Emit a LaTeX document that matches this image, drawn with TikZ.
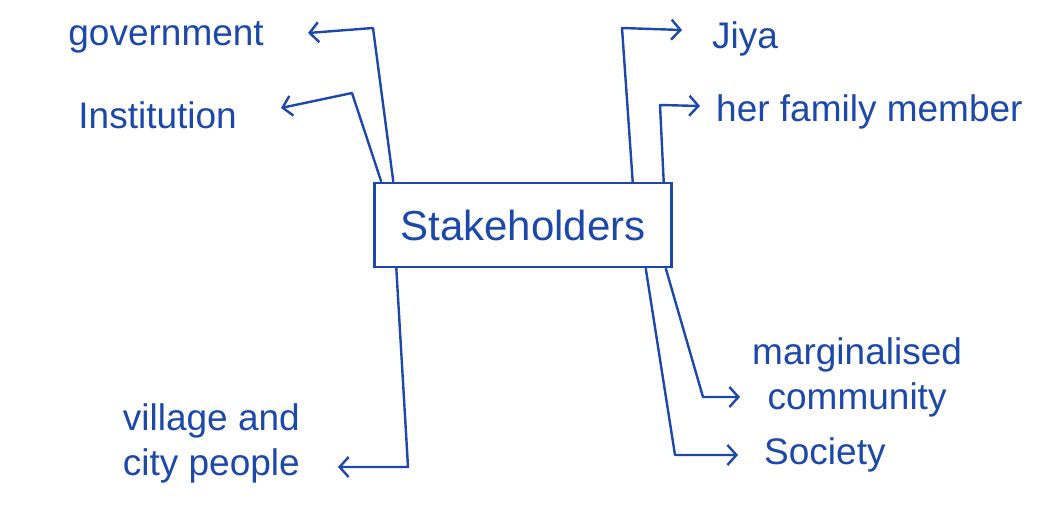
\documentclass[tikz,border=0pt]{standalone}
\usepackage{fontspec}
\setmainfont{Liberation Sans}
\usetikzlibrary{arrows.meta,positioning}
\definecolor{InkBlue}{RGB}{28,72,170}

\begin{document}
\begin{tikzpicture}[
  x=1pt,y=-1pt,
  hub/.style={draw=InkBlue,line width=2.4pt,minimum width=297pt,minimum height=84pt,
              text=InkBlue,font=\fontsize{42}{46}\selectfont,inner sep=0pt},
  lbl/.style={text=InkBlue,font=\fontsize{37}{45}\selectfont,inner sep=0pt},
  link/.style={draw=InkBlue,line width=2.4pt,line join=round,
               -{Straight Barb[length=9pt,width=20pt,line width=2.4pt]}},
]
\useasboundingbox (0,0) rectangle (1056,509);

% central box
\node[hub] (stake) at (523,225) {Stakeholders};

% arrow tips
\coordinate (govtip) at (308,33);
\coordinate (insttip) at (281,108);
\coordinate (jiyatip) at (682,30);
\coordinate (famtip) at (700,106);
\coordinate (margtip) at (740,397);
\coordinate (soctip) at (738,455);
\coordinate (viltip) at (338,467);

% labels
\node[lbl,left=44pt of govtip,yshift=-4pt] (gov) {government};
\node[lbl,left=44pt of insttip,yshift=-7pt] (inst) {Institution};
\node[lbl,right=30pt of jiyatip,yshift=-9pt] (jiya) {Jiya};
\node[lbl,right=16pt of famtip,yshift=-6pt] (fam) {her family member};
\node[lbl,right=12pt of margtip,yshift=20pt,align=center] (marg) {marginalised\\community};
\node[lbl,right=26pt of soctip] (soc) {Society};
\node[lbl,left=38pt of viltip,yshift=24pt,align=left] (vil) {village and\\city people};

% connectors
\draw[link] ([xshift=20pt]stake.north west) -- (373,28) -- (govtip);
\draw[link] ([xshift=8pt]stake.north west) -- (352,93) -- (insttip);
\draw[link] ([xshift=-40pt]stake.north east) -- (622,28) -- (jiyatip);
\draw[link] ([xshift=-9pt]stake.north east) -- (660,105) -- (famtip);
\draw[link] ([xshift=23pt]stake.south west) -- (408,467) -- (viltip);
\draw[link] ([xshift=-7pt]stake.south east) -- (703,397) -- (margtip);
\draw[link] ([xshift=-27pt]stake.south east) -- (675,455) -- (soctip);
\end{tikzpicture}
\end{document}
